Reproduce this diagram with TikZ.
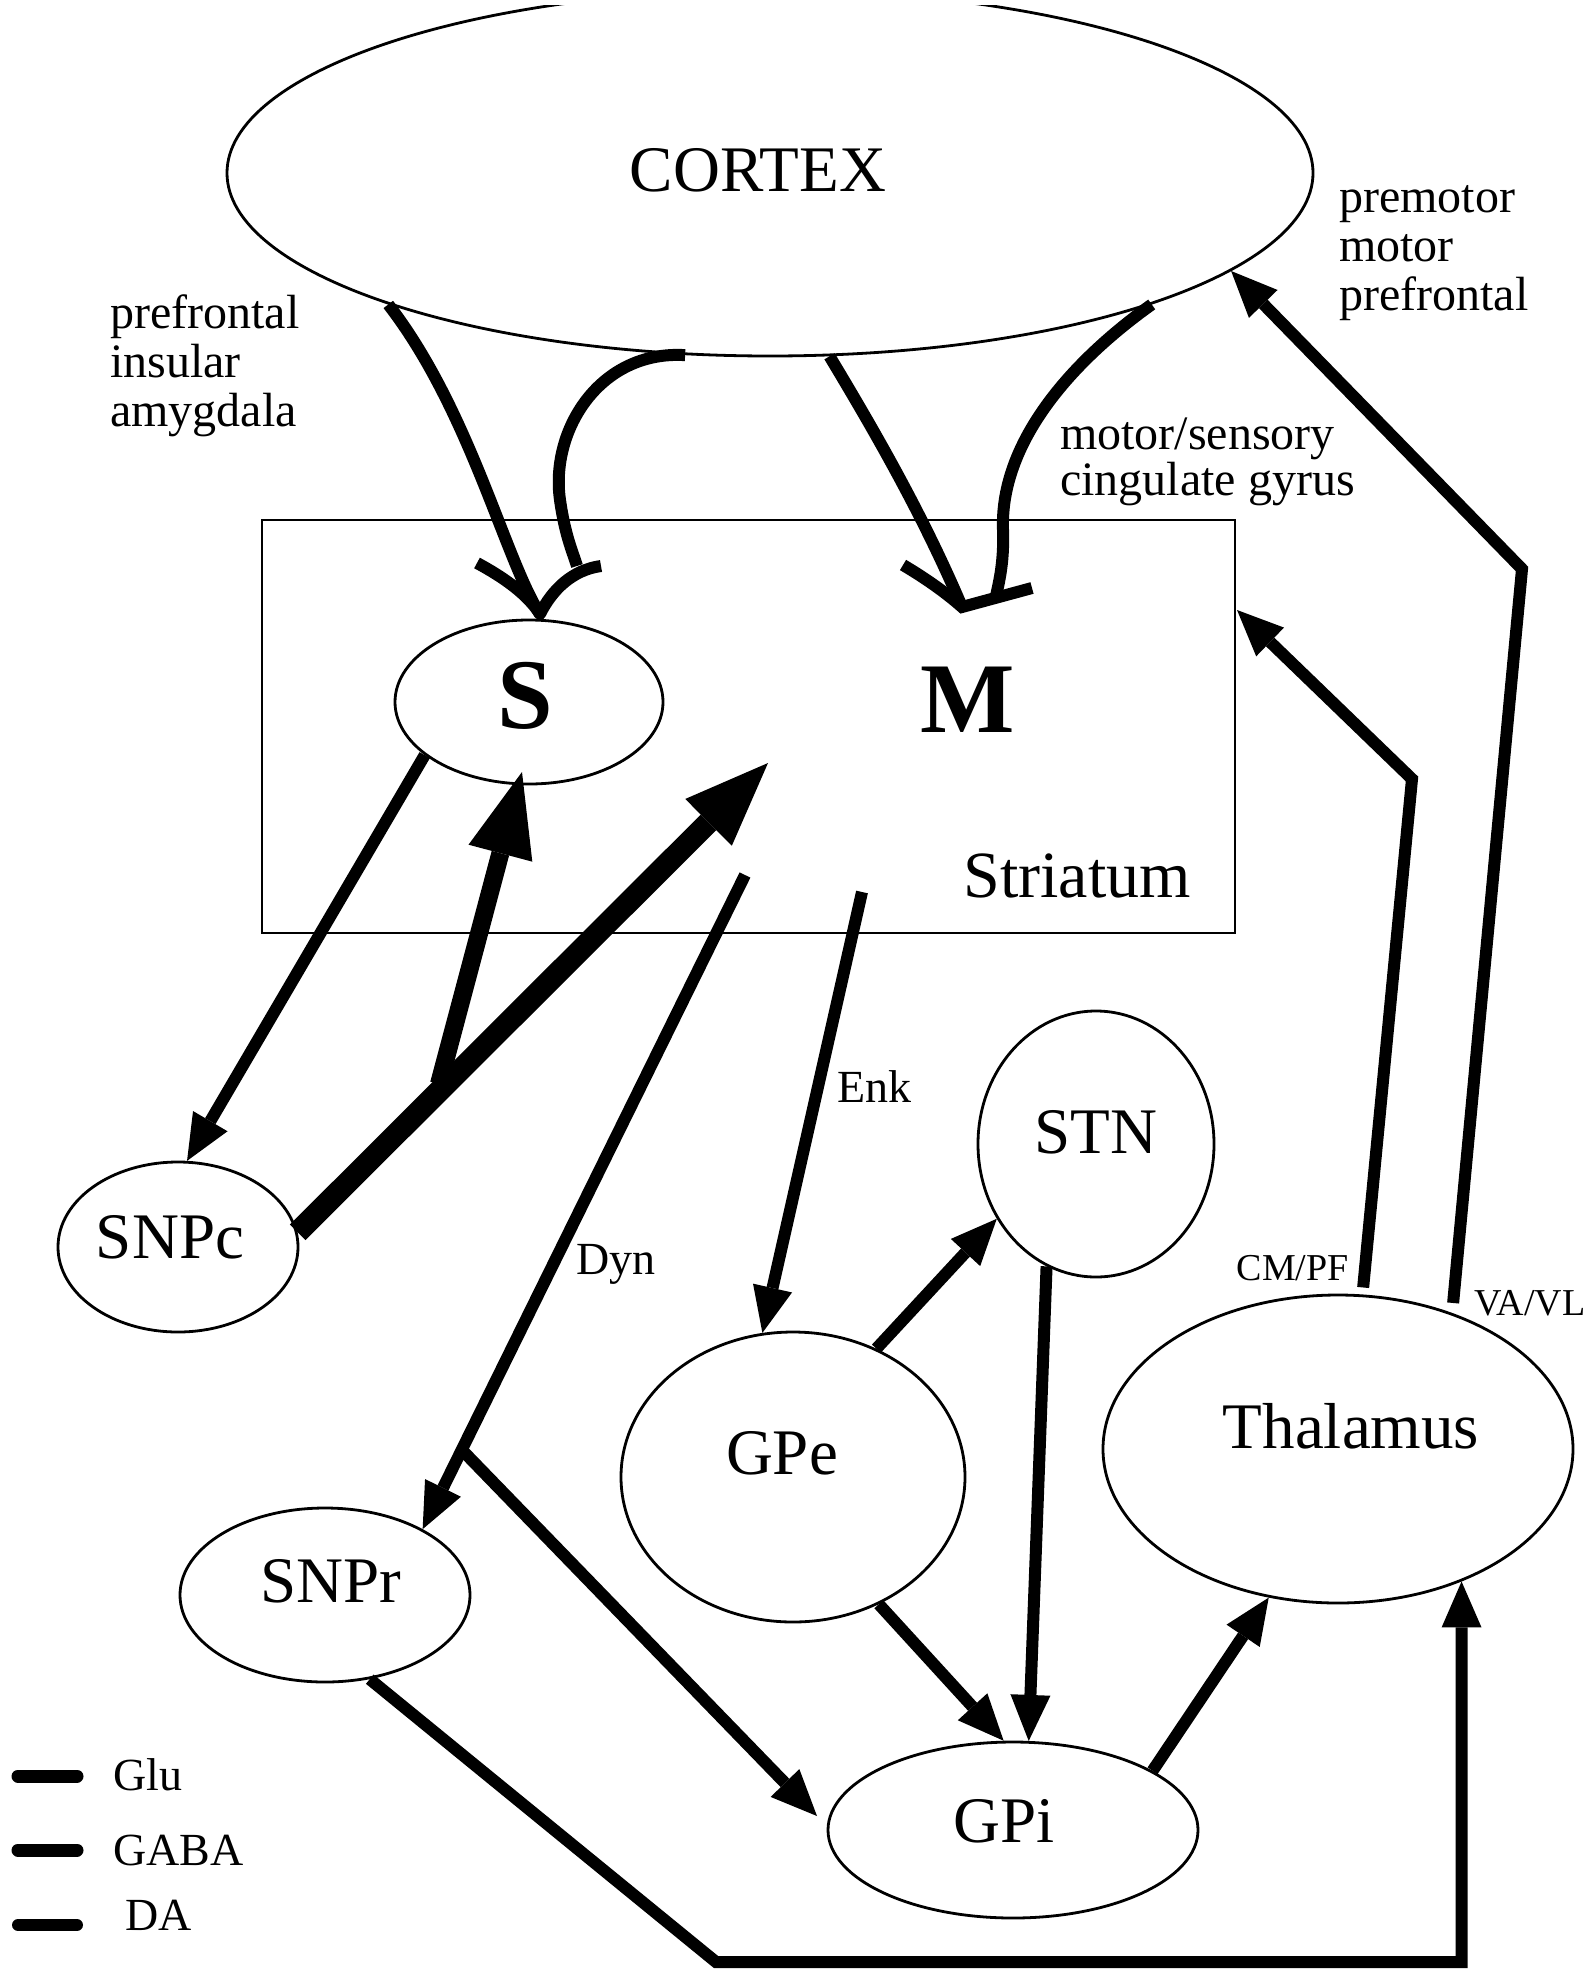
\documentclass[tikz,border=0pt]{standalone}
\usepackage{fontspec}
\setmainfont{Liberation Serif}
\usetikzlibrary{shapes.geometric,arrows.meta,calc}
\begin{document}
\begin{tikzpicture}[x=1pt,y=-1pt,
  outl/.style={draw, line width=2.8pt},
  nd/.style={ellipse, outl, inner sep=0pt},
  ln/.style={line width=12pt},
  arr/.style={ln, -{Triangle[length=46pt,width=40pt,line width=0pt]}},
  da/.style={line width=22pt, -{Triangle[length=84pt,width=66pt,line width=0pt]}},
  dab/.style={line width=18pt, -{Triangle[length=84pt,width=66pt,line width=0pt]}},
  nlab/.style={font=\fontsize{65}{70}\selectfont, inner sep=0pt, anchor=base},
  blab/.style={font=\fontsize{100}{110}\selectfont\bfseries, inner sep=0pt, anchor=base},
  slab/.style={font=\fontsize{48}{50}\selectfont, inner sep=0pt, anchor=base west},
  plab/.style={font=\fontsize{46}{50}\selectfont, inner sep=0pt, anchor=base west},
  tlab/.style={font=\fontsize{38}{40}\selectfont, inner sep=0pt},
  leg/.style={line width=13pt, line cap=round},
]
\useasboundingbox (0,0) rectangle (1591,1972);

% ---------- shapes ----------
\begin{scope}
  \clip (0,6) rectangle (1591,1972);
  \node[nd, minimum width=1086pt, minimum height=366pt] (ctx) at (770,173) {};
\end{scope}
\node[outl, rectangle, minimum width=973pt, minimum height=413pt, inner sep=0pt] (str) at (748.5,726.5) {};
\node[nd, minimum width=268pt, minimum height=164pt] (s) at (529,702) {};
\node[nd, minimum width=240pt, minimum height=170pt] (snpc) at (178,1247) {};
\node[nd, minimum width=236pt, minimum height=266pt] (stn) at (1096,1144) {};
\node[nd, minimum width=344pt, minimum height=290pt] (gpe) at (793,1477) {};
\node[nd, minimum width=370pt, minimum height=176pt] (gpi) at (1013,1830) {};
\node[nd, minimum width=290pt, minimum height=174pt] (snpr) at (325,1595) {};
\node[nd, minimum width=470pt, minimum height=308pt] (thal) at (1338,1449) {};

% ---------- texts ----------
\node[nlab] (ctxT) at (758,192) {CORTEX};
\node[blab] (sT) at (525,728) {S};
\node[blab] (mT) at (968,732) {M};
\node[font=\fontsize{66}{70}\selectfont, inner sep=0pt, anchor=base] (strT) at (1077,897) {Striatum};
\node[nlab] (snpcT) at (170,1258) {SNPc};
\node[nlab] (stnT) at (1096,1153) {STN};
\node[nlab] (gpeT) at (782,1474) {GPe};
\node[nlab] (gpiT) at (1004,1842) {GPi};
\node[nlab] (snprT) at (331,1602) {SNPr};
\node[nlab] (thalT) at (1351,1448) {Thalamus};
\node[plab] (enk) at (837,1102) {Enk};
\node[plab] (dyn) at (576,1274) {Dyn};
\node[tlab, anchor=base east] (cmpf) at (1349,1280) {CM/PF};
\node[tlab, anchor=base west] (vavl) at (1474,1315) {VA/VL};
\node[slab] (l1a) at (110,328) {prefrontal};
\node[slab] (l1b) at (110,377) {insular};
\node[slab] (l1c) at (110,426) {amygdala};
\node[slab] (l2a) at (1339,212) {premotor};
\node[slab] (l2b) at (1339,261) {motor};
\node[slab] (l2c) at (1339,310) {prefrontal};
\node[slab] (l3a) at (1060,449) {motor/sensory};
\node[slab] (l3b) at (1060,495) {cingulate gyrus};

% ---------- coordinates ----------
\coordinate (tS) at (540,614);
\coordinate (bSL) at (477,563);
\coordinate (bSR) at (601,566);
\coordinate (eSR) at (577,566);
\coordinate (tM) at (962,607);
\coordinate (bML) at (903,565);
\coordinate (bMR) at (1032,588);
\coordinate (eMR) at (996,596);
\coordinate (mtip) at (768,763);
\coordinate (stip) at (522,772);
\coordinate (J) at (439,1084);
\coordinate (d0) at (745,875);
\coordinate (d1) at (462,1450);
\coordinate (gpiL) at (817,1816);
\coordinate (e0) at (862,892);
\coordinate (b1) at (716,1962);
\coordinate (cm1) at (1412,779);
\coordinate (cmtip) at (1237,610);
\coordinate (va1) at (1522,569);

% ---------- cortex to striatum ----------
\draw[ln] (ctx.199) .. controls (470,410) and (505,560) .. (tS);
\draw[ln, line join=round] (bSL) .. controls (505,578) and (528,595) .. (tS) .. controls (552,590) and (572,570) .. (bSR);
\draw[ln] (ctx.245) .. controls (600,350) and (550,430) .. (560,500) .. controls (565,535) and (572,550) .. (eSR);
\draw[ln] (ctx.288) .. controls (880,440) and (925,520) .. (tM);
\draw[ln, line join=miter] (bML) .. controls (925,578) and (945,592) .. (tM) -- (bMR);
\draw[ln] (ctx.341) .. controls (1060,370) and (1000,450) .. (1003,530) .. controls (1004,560) and (1000,578) .. (eMR);

% ---------- striatum / SNc ----------
\draw[arr] (s.207) -- (snpc.84);
\draw[da] (snpc.7) -- (mtip);
\draw[dab] (J) -- (stip);

% ---------- striatal outputs ----------
\draw[arr] (d0) -- (snpr.34);
\draw[arr] (d1) -- (gpiL);
\draw[arr] (e0) -- (gpe.102);
\draw[arr] (gpe.57) -- (stn.217);
\draw[arr] (stn.248) -- (gpi.80);
\draw[arr] (gpe.304) -- (gpi.96);
\draw[arr] (gpi.23) -- (thal.245);
\draw[arr, line join=miter] (snpr.298) -- (b1) -- (b1 -| thal.313) -- (thal.313);

% ---------- thalamic outputs ----------
\draw[arr, line join=miter, shorten <=7pt] (thal.81) -- (cm1) -- (cmtip);
\draw[arr, line join=miter, shorten <=10pt] (thal.50) -- (va1) -- (ctx.348);

% ---------- legend ----------
\coordinate (g1a) at (18,1776); \coordinate (g1b) at (77,1776);
\coordinate (g2a) at (18,1850); \coordinate (g2b) at (77,1850);
\coordinate (g3a) at (18,1925); \coordinate (g3b) at (77,1925);
\draw[leg] (g1a) -- (g1b);
\draw[leg] (g2a) -- (g2b);
\draw[leg, line width=12pt] (g3a) -- (g3b);
\node[plab] (glu) at (113,1790) {Glu};
\node[plab] (gaba) at (113,1865) {GABA};
\node[plab] (dal) at (125,1930) {DA};
\end{tikzpicture}
\end{document}
